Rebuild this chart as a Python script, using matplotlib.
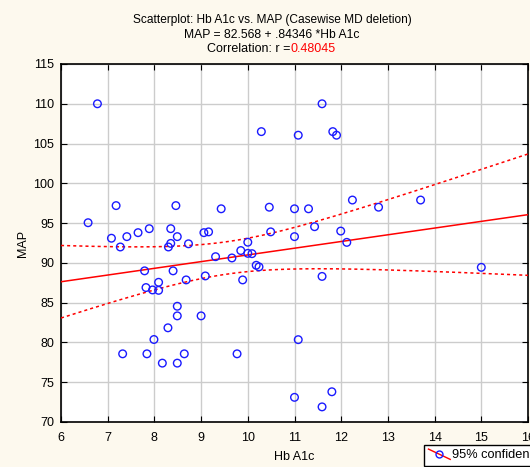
"""Scatterplot Hb A1c vs MAP with regression line and 95% confidence bands."""
import numpy as np
import matplotlib
matplotlib.use("Agg")
import matplotlib.pyplot as plt
from matplotlib.lines import Line2D
from matplotlib.legend_handler import HandlerBase

# data
hba1c = [6.78, 10.29, 11.08, 7.18, 8.46, 9.43, 10.46, 11.0, 6.58, 7.08,
         7.41, 7.65, 7.89, 8.35, 8.49, 9.06, 9.16, 10.49, 11.0, 7.27,
         8.35, 8.30, 8.73, 10.0, 9.85, 9.31, 9.66, 10.0, 10.09, 10.18,
         10.24, 9.89, 9.09, 8.68, 8.40, 7.79, 8.09, 7.82, 7.96, 8.09,
         8.49, 8.49, 9.0, 8.29, 7.99, 7.32, 7.84, 8.64, 9.77, 8.17,
         8.49, 11.08, 11.0, 11.59, 11.82, 11.90, 11.30, 12.24, 12.80, 13.70,
         11.43, 11.99, 12.12, 11.59, 15.0, 11.80, 11.59]
map_vals = [110.0, 106.5, 106.05, 97.2, 97.2, 96.8, 97.0, 96.8, 95.05, 93.1,
            93.3, 93.8, 94.3, 94.3, 93.3, 93.8, 93.9, 93.9, 93.3, 92.0,
            92.45, 92.0, 92.4, 92.6, 91.55, 90.78, 90.62, 91.2, 91.16, 89.7,
            89.5, 87.86, 88.36, 87.86, 89.0, 89.0, 87.56, 86.9, 86.6, 86.55,
            84.55, 83.34, 83.34, 81.84, 80.37, 78.57, 78.57, 78.57, 78.57, 77.4,
            77.4, 80.35, 73.1, 110.0, 106.5, 106.05, 96.8, 97.9, 97.0, 97.9,
            94.55, 94.0, 92.58, 88.3, 89.44, 73.8, 71.9]

intercept = 82.568
slope = 0.84346
r_text = "0.48045"
t_crit = 1.997  # t(0.975, n-2)

x = np.array(hba1c)
y = np.array(map_vals)
n = len(x)
xbar = x.mean()
sxx = ((x - xbar) ** 2).sum()
resid = y - (intercept + slope * x)
s = np.sqrt((resid ** 2).sum() / (n - 2))

xs = np.linspace(6, 16, 200)
fit = intercept + slope * xs
hw = t_crit * s * np.sqrt(1.0 / n + (xs - xbar) ** 2 / sxx)

bg = '#fdf9ee'
blue = '#1a1aff'
plt.rcParams['font.family'] = ['Liberation Sans', 'DejaVu Sans']
plt.rcParams['font.size'] = 9


class DiagHandler(HandlerBase):
    # red diagonal line with an open circle, like the original legend key
    def create_artists(self, legend, orig_handle, xdescent, ydescent,
                       width, height, fontsize, trans):
        x0, y0 = -xdescent, -ydescent
        ln = Line2D([x0, x0 + width], [y0 + height, y0 - height * 0.15],
                    color='red', lw=1, transform=trans)
        mk = Line2D([x0 + width * 0.5], [y0 + height * 0.4], marker='o',
                    ls='none', mfc='none', mec=blue, ms=5, transform=trans)
        return [ln, mk]


fig = plt.figure(figsize=(5.30, 4.67), dpi=100, facecolor=bg)
ax = fig.add_axes([61 / 530, 45 / 467, 467 / 530, 358 / 467])
ax.set_facecolor('white')

ax.plot(xs, fit, color='red', lw=1.1, zorder=3)
ax.plot(xs, fit + hw, color='red', lw=1.1, ls=(0, (2, 2)), zorder=3)
ax.plot(xs, fit - hw, color='red', lw=1.1, ls=(0, (2, 2)), zorder=3)
ax.scatter(x, y, s=30, facecolors='none', edgecolors=blue,
           linewidths=1.0, zorder=4)

ax.set_xlim(6, 16)
ax.set_ylim(70, 115)
ax.set_xticks(range(6, 17))
ax.set_yticks(range(70, 116, 5))
ax.grid(True, color='#cccccc', lw=1.0)
ax.set_axisbelow(True)
ax.tick_params(direction='in', length=4, top=True, right=True,
               labelsize=9)
ax.tick_params(axis='x', pad=7)
ax.tick_params(axis='y', pad=5)
for sp in ax.spines.values():
    sp.set_linewidth(1.2)

ax.set_xlabel('Hb A1c', fontsize=9, labelpad=5)
ax.set_ylabel('MAP', fontsize=9, labelpad=3)

fig.text(0.513, 1 - 20 / 467, 'Scatterplot: Hb A1c vs. MAP (Casewise MD deletion)',
         ha='center', va='center', fontsize=8.6)
fig.text(0.513, 1 - 35.5 / 467, 'MAP = 82.568 + .84346 *Hb A1c',
         ha='center', va='center', fontsize=8.7)
fig.text(290.5 / 530, 1 - 49.5 / 467, 'Correlation: r =',
         ha='right', va='center', fontsize=9)
fig.text(290.5 / 530, 1 - 49.5 / 467, r_text, color='red',
         ha='left', va='center', fontsize=9)

h_key = Line2D([], [], color='red')
leg = fig.legend([h_key], ['95% confidence'], loc='lower left',
                 bbox_to_anchor=(424 / 530, 1.5 / 467), borderaxespad=0,
                 fontsize=9.2, fancybox=False, edgecolor='black',
                 framealpha=1, handlelength=1.7, handletextpad=0.15,
                 borderpad=0.35, handler_map={Line2D: DiagHandler()})
leg.get_frame().set_linewidth(1.0)

plt.savefig('out.png', dpi=100, facecolor=bg)
